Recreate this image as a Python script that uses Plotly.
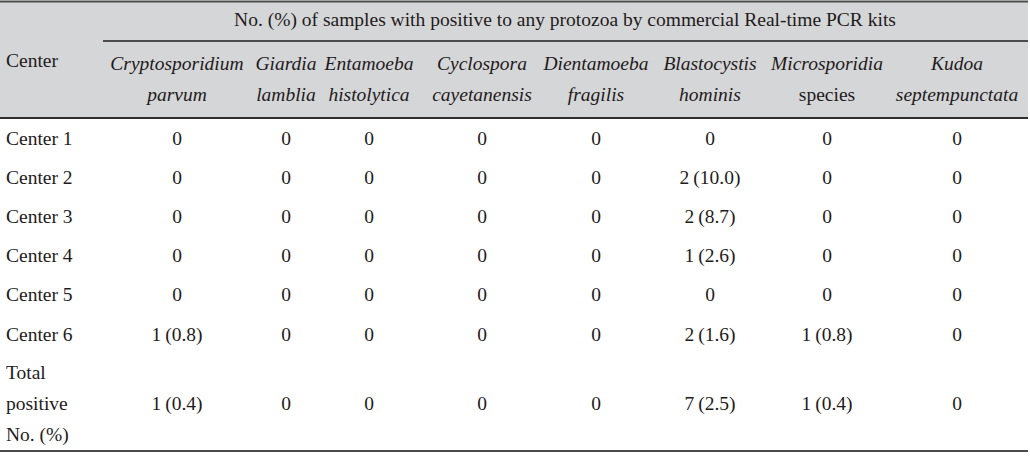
import plotly.graph_objects as go

# table content
centers = ["Center 1", "Center 2", "Center 3", "Center 4", "Center 5", "Center 6"]
total_label = ["Total", "positive", "No. (%)"]
group_title = "No. (%) of samples with positive to any protozoa by commercial Real-time PCR kits"

species_line1 = ["<i>Cryptosporidium</i>", "<i>Giardia</i>", "<i>Entamoeba</i>", "<i>Cyclospora</i>",
                 "<i>Dientamoeba</i>", "<i>Blastocystis</i>", "<i>Microsporidia</i>", "<i>Kudoa</i>"]
species_line2 = ["<i>parvum</i>", "<i>lamblia</i>", "<i>histolytica</i>", "<i>cayetanensis</i>",
                 "<i>fragilis</i>", "<i>hominis</i>", "species", "<i>septempunctata</i>"]

# counts per column (Center 1..6, Total) and percentages
cryptosporidium_n = [0, 0, 0, 0, 0, 1, 1]
cryptosporidium_pct = [0, 0, 0, 0, 0, 0.8, 0.4]
giardia_n = [0, 0, 0, 0, 0, 0, 0]
giardia_pct = [0, 0, 0, 0, 0, 0, 0]
entamoeba_n = [0, 0, 0, 0, 0, 0, 0]
entamoeba_pct = [0, 0, 0, 0, 0, 0, 0]
cyclospora_n = [0, 0, 0, 0, 0, 0, 0]
cyclospora_pct = [0, 0, 0, 0, 0, 0, 0]
dientamoeba_n = [0, 0, 0, 0, 0, 0, 0]
dientamoeba_pct = [0, 0, 0, 0, 0, 0, 0]
blastocystis_n = [0, 2, 2, 1, 0, 2, 7]
blastocystis_pct = [0, 10.0, 8.7, 2.6, 0, 1.6, 2.5]
microsporidia_n = [0, 0, 0, 0, 0, 1, 1]
microsporidia_pct = [0, 0, 0, 0, 0, 0.8, 0.4]
kudoa_n = [0, 0, 0, 0, 0, 0, 0]
kudoa_pct = [0, 0, 0, 0, 0, 0, 0]

columns = [
    (cryptosporidium_n, cryptosporidium_pct),
    (giardia_n, giardia_pct),
    (entamoeba_n, entamoeba_pct),
    (cyclospora_n, cyclospora_pct),
    (dientamoeba_n, dientamoeba_pct),
    (blastocystis_n, blastocystis_pct),
    (microsporidia_n, microsporidia_pct),
    (kudoa_n, kudoa_pct),
]

# layout (pixel-like axis units)
W, H = 1030, 456
col_x = [177, 286, 369, 482, 596, 710, 827, 957]
row_y = [140, 179, 218, 257, 296, 336, 405]
total_y = [374, 405, 436]
FONT = "Liberation Serif, Times New Roman, serif"
FS = 19.5
TXT = "#1f1b1c"


def fmt(n, p):
    return "0" if n == 0 else f"{n}\u2009({p:.1f})"


fig = go.Figure()


def add_text(xs, ys, texts, pos="middle center"):
    fig.add_trace(go.Scatter(
        x=xs, y=ys, text=texts, mode="text", textposition=pos,
        textfont=dict(family=FONT, size=FS, color=TXT),
        hoverinfo="skip", showlegend=False,
    ))


# header
add_text([565], [21], [group_title])
add_text([6], [62], ["Center"], pos="middle right")
add_text(col_x, [65] * 8, species_line1)
add_text(col_x, [96] * 8, species_line2)

# row labels
add_text([6] * 6, row_y[:6], centers, pos="middle right")
add_text([6] * 3, total_y, total_label, pos="middle right")

# cells
for cx, (ns, ps) in zip(col_x, columns):
    add_text([cx] * len(ns), row_y, [fmt(n, p) for n, p in zip(ns, ps)])

shapes = [
    dict(type="rect", x0=0, x1=1028, y0=1, y1=118, fillcolor="#d5d6d7", line_width=0, layer="below"),
    dict(type="line", x0=0, x1=1028, y0=1.5, y1=1.5, line=dict(color="#4a4a4a", width=2)),
    dict(type="line", x0=103, x1=1028, y0=41, y1=41, line=dict(color="#1e1e1e", width=1.5)),
    dict(type="line", x0=0, x1=1028, y0=118, y1=118, line=dict(color="#2e2e2e", width=2)),
    dict(type="line", x0=0, x1=1028, y0=451, y1=451, line=dict(color="#4a4a4a", width=2)),
]

fig.update_layout(
    width=W, height=H,
    margin=dict(l=0, r=0, t=0, b=0),
    paper_bgcolor="white", plot_bgcolor="white",
    xaxis=dict(range=[0, W], visible=False, fixedrange=True),
    yaxis=dict(range=[H, 0], visible=False, fixedrange=True),
    shapes=shapes,
)

fig.write_html(
    "out.html",
    config={"displayModeBar": False},
    post_script="document.body.style.margin='0';document.body.style.overflow='hidden';",
)
